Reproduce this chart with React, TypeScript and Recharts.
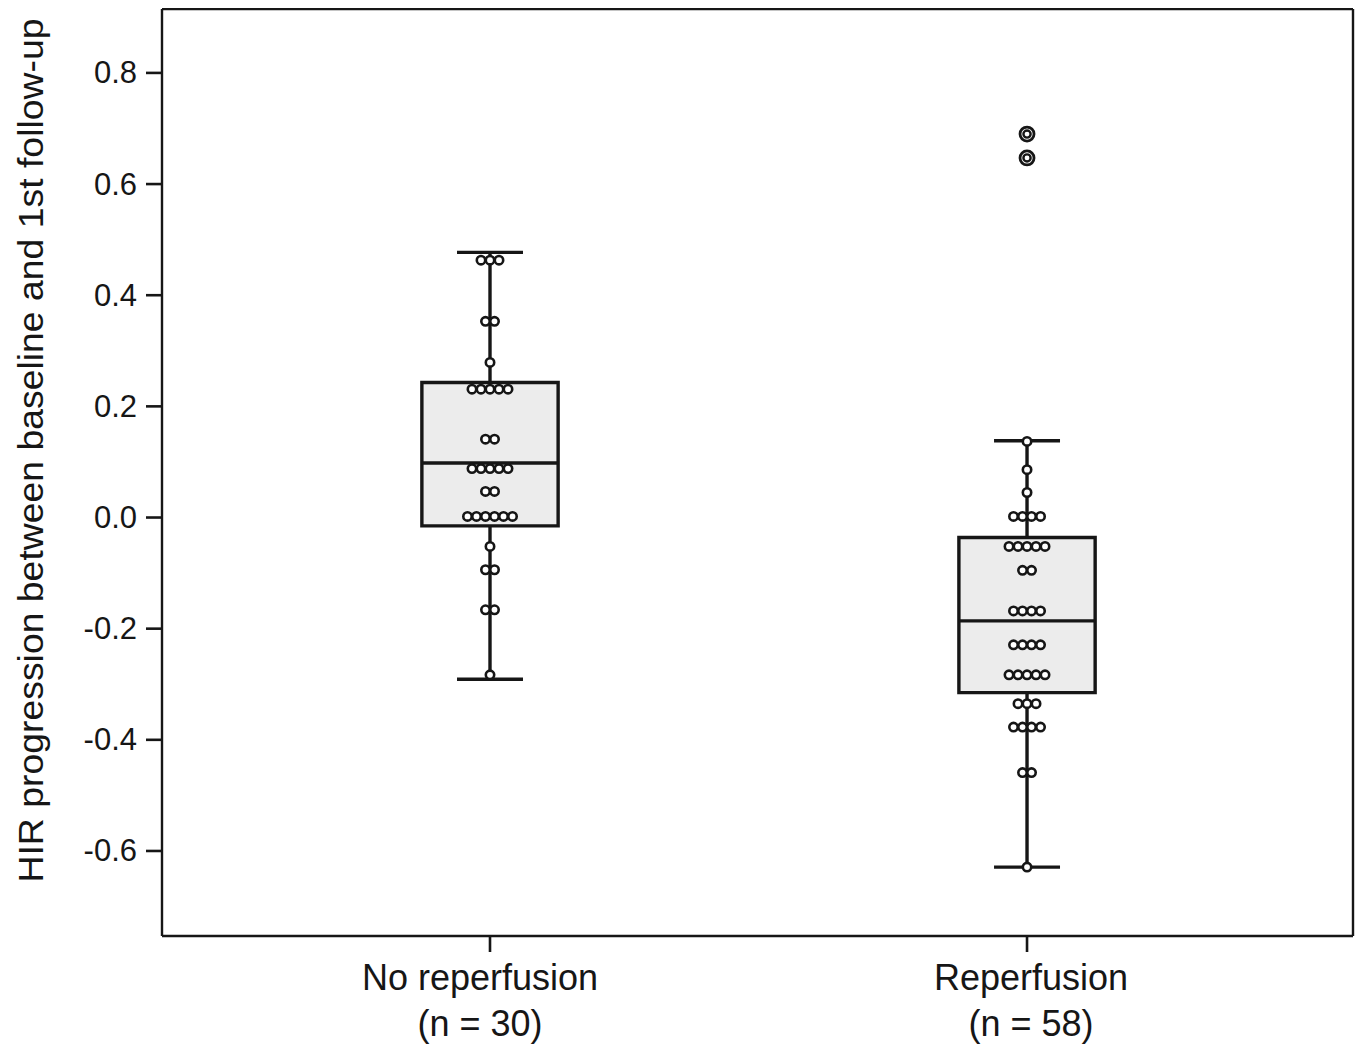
import React from 'react';
import { ComposedChart, XAxis, YAxis, Scatter, ReferenceArea, ReferenceLine } from 'recharts';

// ---- data ----
const categories = ['No reperfusion', 'Reperfusion'];
const sampleSizes = [30, 58];
const categoryPositions = [0.2754, 0.7263];
const yTicks = [-0.6, -0.4, -0.2, 0, 0.2, 0.4, 0.6, 0.8];

const q1 = [-0.015, -0.315];
const medians = [0.098, -0.186];
const q3 = [0.243, -0.036];
const whiskerLow = [-0.291, -0.629];
const whiskerHigh = [0.477, 0.138];
const outliersReperfusion = [0.69, 0.647];

const pointsNoReperfusion = [
  0.463, 0.463, 0.463,
  0.353, 0.353,
  0.279,
  0.231, 0.231, 0.231, 0.231, 0.231,
  0.141, 0.141,
  0.088, 0.088, 0.088, 0.088, 0.088,
  0.047, 0.047,
  0.002, 0.002, 0.002, 0.002, 0.002, 0.002,
  -0.052,
  -0.094, -0.094,
  -0.166, -0.166,
  -0.283,
];

const pointsReperfusion = [
  0.137,
  0.086,
  0.045,
  0.002, 0.002, 0.002, 0.002,
  -0.052, -0.052, -0.052, -0.052, -0.052,
  -0.095, -0.095,
  -0.168, -0.168, -0.168, -0.168,
  -0.229, -0.229, -0.229, -0.229,
  -0.283, -0.283, -0.283, -0.283, -0.283,
  -0.335, -0.335, -0.335,
  -0.377, -0.377, -0.377, -0.377,
  -0.459, -0.459,
  -0.629,
];

// ---- layout / style ----
const Y_DOMAIN: [number, number] = [-0.753, 0.915];
const X_DOMAIN: [number, number] = [0, 1];
const DOT_STEP = 0.00756;
const BOX_HALF = 0.0572;
const CAP_HALF = 0.0277;
const LABEL_NUDGE = [-10, 4];
const INK = '#161616';
const FONT = '"Liberation Sans", Arial, Helvetica, sans-serif';
const LINE_W = 3.4;

function swarm(values: number[], center: number) {
  const counts = new Map<number, number>();
  values.forEach((v) => counts.set(v, (counts.get(v) || 0) + 1));
  const seen = new Map<number, number>();
  return values.map((v) => {
    const k = counts.get(v) || 1;
    const i = seen.get(v) || 0;
    seen.set(v, i + 1);
    return { x: center + (i - (k - 1) / 2) * DOT_STEP, y: v };
  });
}

const dotsData = [
  ...swarm(pointsNoReperfusion, categoryPositions[0]),
  ...swarm(pointsReperfusion, categoryPositions[1]),
];
const outlierData = outliersReperfusion.map((v) => ({ x: categoryPositions[1], y: v }));

const Dot = (props: any) => {
  const { cx, cy } = props;
  if (cx == null || cy == null) return null;
  return <circle cx={cx} cy={cy} r={4.2} fill="#fff" stroke={INK} strokeWidth={2.6} />;
};

const OutlierDot = (props: any) => {
  const { cx, cy } = props;
  if (cx == null || cy == null) return null;
  return (
    <g>
      <circle cx={cx} cy={cy} r={7} fill="#fff" stroke={INK} strokeWidth={2.8} />
      <circle cx={cx} cy={cy} r={3.6} fill="#fff" stroke={INK} strokeWidth={2.4} />
    </g>
  );
};

const YTick = (props: any) => {
  const { x, y, payload } = props;
  return (
    <text x={x} y={y} dy={10.5} textAnchor="end" fontSize={31} fontFamily={FONT} fill={INK}>
      {Number(payload.value).toFixed(1)}
    </text>
  );
};

const XTick = (props: any) => {
  const { x, y, payload } = props;
  let idx = 0;
  let best = Infinity;
  categoryPositions.forEach((p, i) => {
    const d = Math.abs(p - payload.value);
    if (d < best) {
      best = d;
      idx = i;
    }
  });
  const tx = x + LABEL_NUDGE[idx];
  return (
    <text x={tx} y={y} textAnchor="middle" fontSize={36} fontFamily={FONT} fill={INK}>
      <tspan x={tx} dy={36}>{categories[idx]}</tspan>
      <tspan x={tx} dy={46}>{`(n = ${sampleSizes[idx]})`}</tspan>
    </text>
  );
};

const YLabel = (props: any) => {
  const vb = props.viewBox || { x: 0, y: 0, width: 154, height: 928 };
  const cx = vb.x + 35;
  const cy = vb.y + vb.height / 2 - 22;
  return (
    <text
      transform={`translate(${cx},${cy}) rotate(-90)`}
      textAnchor="middle"
      fontSize={35}
      fontFamily={FONT}
      fill={INK}
      textLength={864}
      lengthAdjust="spacingAndGlyphs"
    >
      HIR progression between baseline and 1st follow-up
    </text>
  );
};

export default function App() {
  return (
    <div style={{ width: 1347, height: 1039, background: '#fff' }}>
      <ComposedChart width={1347} height={1039} margin={{ top: 1, right: 2, bottom: 0, left: 0 }}>
        <XAxis
          type="number"
          dataKey="x"
          domain={X_DOMAIN}
          ticks={categoryPositions}
          allowDataOverflow
          height={111}
          tickSize={16}
          tickMargin={2}
          tick={<XTick />}
          axisLine={{ stroke: INK, strokeWidth: 2.4 }}
          tickLine={{ stroke: INK, strokeWidth: 2.6 }}
          interval={0}
        />
        <YAxis
          type="number"
          dataKey="y"
          domain={Y_DOMAIN}
          ticks={yTicks}
          allowDataOverflow
          width={154}
          tickSize={16}
          tickMargin={9}
          tick={<YTick />}
          axisLine={{ stroke: INK, strokeWidth: 2.4 }}
          tickLine={{ stroke: INK, strokeWidth: 2.6 }}
          interval={0}
          label={{ content: <YLabel /> }}
        />
        <ReferenceLine y={Y_DOMAIN[1]} stroke={INK} strokeWidth={2.4} />
        <ReferenceLine x={X_DOMAIN[1]} stroke={INK} strokeWidth={2.4} />

        {categoryPositions.map((c, i) => (
          <ReferenceLine
            key={`wh-${i}`}
            segment={[{ x: c, y: q3[i] }, { x: c, y: whiskerHigh[i] }]}
            stroke={INK}
            strokeWidth={LINE_W}
          />
        ))}
        {categoryPositions.map((c, i) => (
          <ReferenceLine
            key={`wl-${i}`}
            segment={[{ x: c, y: q1[i] }, { x: c, y: whiskerLow[i] }]}
            stroke={INK}
            strokeWidth={LINE_W}
          />
        ))}
        {categoryPositions.map((c, i) => (
          <ReferenceLine
            key={`ch-${i}`}
            segment={[{ x: c - CAP_HALF, y: whiskerHigh[i] }, { x: c + CAP_HALF, y: whiskerHigh[i] }]}
            stroke={INK}
            strokeWidth={LINE_W}
          />
        ))}
        {categoryPositions.map((c, i) => (
          <ReferenceLine
            key={`cl-${i}`}
            segment={[{ x: c - CAP_HALF, y: whiskerLow[i] }, { x: c + CAP_HALF, y: whiskerLow[i] }]}
            stroke={INK}
            strokeWidth={LINE_W}
          />
        ))}
        {categoryPositions.map((c, i) => (
          <ReferenceArea
            key={`box-${i}`}
            x1={c - BOX_HALF}
            x2={c + BOX_HALF}
            y1={q1[i]}
            y2={q3[i]}
            fill="#ececec"
            fillOpacity={1}
            stroke={INK}
            strokeWidth={LINE_W}
          />
        ))}
        {categoryPositions.map((c, i) => (
          <ReferenceLine
            key={`med-${i}`}
            segment={[{ x: c - BOX_HALF, y: medians[i] }, { x: c + BOX_HALF, y: medians[i] }]}
            stroke={INK}
            strokeWidth={LINE_W}
          />
        ))}

        <Scatter data={dotsData} dataKey="y" shape={<Dot />} isAnimationActive={false} />
        <Scatter data={outlierData} dataKey="y" shape={<OutlierDot />} isAnimationActive={false} />
      </ComposedChart>
    </div>
  );
}
